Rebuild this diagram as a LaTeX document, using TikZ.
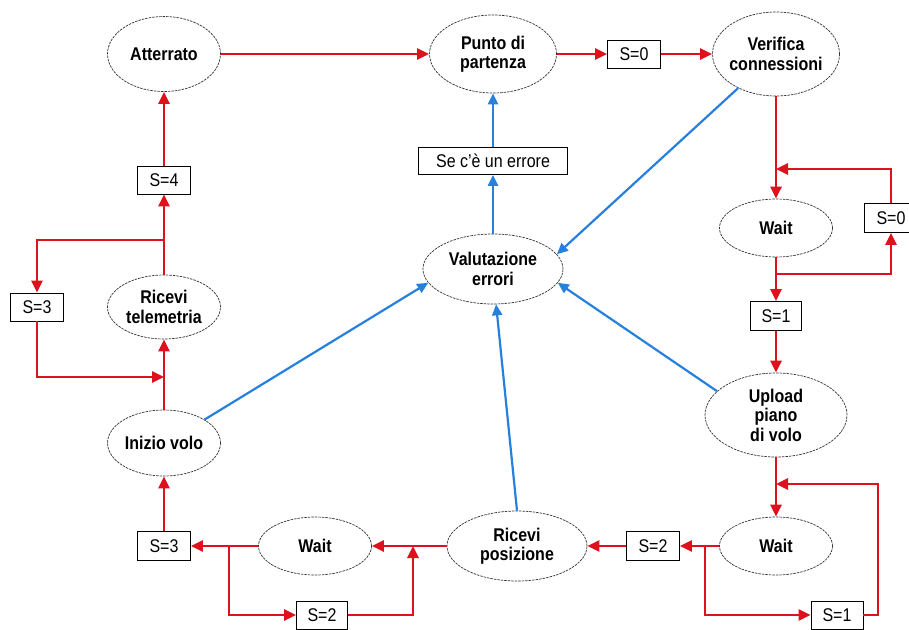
\documentclass[tikz,border=0pt]{standalone}
\usepackage{fontspec}
\setmainfont{Liberation Sans}
\usetikzlibrary{arrows.meta,shapes.geometric}
\definecolor{flowred}{RGB}{222,18,28}
\definecolor{errblue}{RGB}{38,128,222}
% text is set slightly taller than the font's natural proportions
\newcommand{\tx}[1]{\scalebox{1}[1.15]{#1}}

\begin{document}
\begin{tikzpicture}[x=1pt,y=-1pt,
  state/.style={ellipse, draw=black!80, dash pattern=on 2.5pt off 1pt,
    line width=0.7pt, inner sep=0pt, fill=white},
  every label/.style={font=\fontsize{16}{19.5}\selectfont\bfseries, align=center},
  cond/.style={draw=black, line width=0.8pt, rectangle, minimum width=53pt,
    minimum height=28pt, inner sep=0pt, fill=white,
    font=\fontsize{16}{19}\selectfont},
  go/.style={draw=flowred, line width=2.7pt, -{Triangle[length=12pt,width=11pt]}},
  err/.style={draw=errblue, line width=2.2pt, -{Triangle[length=11pt,width=10pt]}},
]
\useasboundingbox (0,0) rectangle (909,629);
\fill[white] (0,0) rectangle (909,629);
\clip (0,0) rectangle (909,629);

% states
\node[state, minimum width=113pt, minimum height=75pt, label=center:{\tx{Atterrato}}] (atter) at (164,54) {};
\node[state, minimum width=127pt, minimum height=78pt, label=center:{\tx{Punto di}\\\tx{partenza}}] (punto) at (493,54) {};
\node[state, minimum width=127pt, minimum height=84pt, label=center:{\tx{Verifica}\\\tx{connessioni}}] (verif) at (776,54) {};
\node[state, minimum width=140pt, minimum height=70pt, label=center:{\tx{Valutazione}\\\tx{errori}}] (val) at (493,269) {};
\node[state, minimum width=113pt, minimum height=58pt, label=center:{\tx{Wait}}] (waitA) at (776,228) {};
\node[state, minimum width=142pt, minimum height=84pt, label=center:{\tx{Upload}\\\tx{piano}\\\tx{di volo}}] (upload) at (776,415) {};
\node[state, minimum width=113pt, minimum height=58pt, label=center:{\tx{Wait}}] (waitB) at (776,546) {};
\node[state, minimum width=140pt, minimum height=70pt, label=center:{\tx{Ricevi}\\\tx{posizione}}] (ricpos) at (517,546) {};
\node[state, minimum width=113pt, minimum height=58pt, label=center:{\tx{Wait}}] (waitC) at (315,546) {};
\node[state, minimum width=113pt, minimum height=66pt, label=center:{\tx{Inizio volo}}] (inizio) at (164,443) {};
\node[state, minimum width=113pt, minimum height=64pt, label=center:{\tx{Ricevi}\\\tx{telemetria}}] (telem) at (164,307) {};

% conditions
\node[cond] (s00) at (634,54) {\tx{S=0}};
\node[cond, minimum width=149pt, minimum height=27pt] (serr) at (493,161) {\tx{Se c'è un errore}};
\node[cond, minimum width=54pt, minimum height=29pt] (s0r) at (891,218) {\tx{S=0}};
\node[cond, minimum width=51pt, minimum height=29pt] (s1a) at (776,316) {\tx{S=1}};
\node[cond, minimum width=52pt] (s1b) at (837,615) {\tx{S=1}};
\node[cond, minimum height=29pt] (s2a) at (653,546) {\tx{S=2}};
\node[cond, minimum width=51pt] (s2b) at (322,615) {\tx{S=2}};
\node[cond, minimum height=29pt] (s3b) at (164,546) {\tx{S=3}};
\node[cond] (s3l) at (37,307) {\tx{S=3}};
\node[cond] (s4) at (164,180) {\tx{S=4}};

% branch and junction points
\coordinate (b1) at (164,240);
\coordinate (j1) at (164,377);
\coordinate (b2) at (776,274);
\coordinate (j2) at (776,169);
\coordinate (b3) at (705,546);
\coordinate (c3) at (878,484);
\coordinate (j3) at (776,484);
\coordinate (b4) at (229,546);
\coordinate (j4) at (413,546);

% normal flow
\draw[go] (atter) -- (punto);
\draw[go] (punto) -- (s00);
\draw[go] (s00) -- (verif);
\draw[go] (verif) -- (waitA);
\draw[go] (waitA) -- (s1a);
\draw[go] (b2) -| (s0r);
\draw[go] (s0r) |- (j2);
\draw[go] (s1a) -- (upload);
\draw[go] (upload) -- (waitB);
\draw[go] (waitB) -- (s2a);
\draw[go] (b3) |- (s1b);
\draw[go] (s1b) -| (c3) -- (j3);
\draw[go] (s2a) -- (ricpos);
\draw[go] (ricpos) -- (waitC);
\draw[go] (waitC) -- (s3b);
\draw[go] (b4) |- (s2b);
\draw[go] (s2b) -| (j4);
\draw[go] (s3b) -- (inizio);
\draw[go] (inizio) -- (telem);
\draw[go] (telem) -- (s4);
\draw[go] (b1) -| (s3l);
\draw[go] (s3l) |- (j1);
\draw[go] (s4) -- (atter);

% error handling
\draw[err] (val) -- (serr);
\draw[err] (serr) -- (punto);
\draw[err] (verif.222) -- (val.13);
\draw[err] (upload.158) -- (val.-12);
\draw[err] (ricpos.north) -- (val.-85);
\draw[err] (inizio.30) -- (val.192);
\end{tikzpicture}
\end{document}
